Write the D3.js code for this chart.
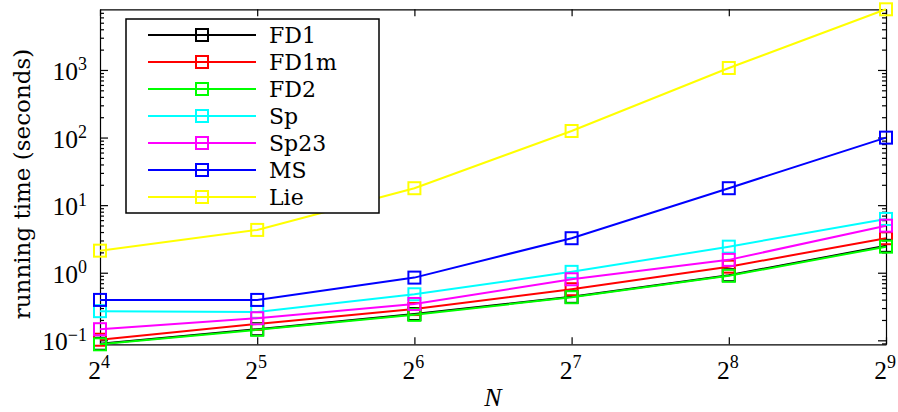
<!DOCTYPE html>
<html>
<head>
<meta charset="utf-8">
<script src="https://cdn.jsdelivr.net/npm/d3@7"></script>
<style>
  html, body { margin: 0; padding: 0; background: #fff; }
  svg { display: block; }
</style>
</head>
<body>
<svg id="chart" width="898" height="412"></svg>
<script>
// ---- data ----
const nValues = [16, 32, 64, 128, 256, 512];
const xTickExponents = [4, 5, 6, 7, 8, 9];
const yTickExponents = [-1, 0, 1, 2, 3];
const seriesNames = ["FD1", "FD1m", "FD2", "Sp", "Sp23", "MS", "Lie"];
const seriesColors = ["#000000", "#ff0000", "#00ff00", "#00ffff", "#ff00ff", "#0000ff", "#ffff00"];
const FD1  = [0.089, 0.146, 0.245, 0.44, 0.92, 2.5];
const FD1m = [0.102, 0.175, 0.29, 0.57, 1.23, 3.24];
const FD2  = [0.0873, 0.143, 0.238, 0.434, 0.90, 2.43];
const Sp   = [0.27, 0.262, 0.48, 1.03, 2.43, 6.25];
const Sp23 = [0.146, 0.212, 0.345, 0.80, 1.55, 4.97];
const MS   = [0.396, 0.396, 0.847, 3.24, 17.8, 99.7];
const Lie  = [2.12, 4.3, 17.8, 125, 1070, 7900];
const seriesValues = [FD1, FD1m, FD2, Sp, Sp23, MS, Lie];

(function () {
// ---- layout ----
const pLeft = 100, pRight = 886, pTop = 9.3, pBottom = 344.3;
const svg = d3.select("#chart");
const allVals = seriesValues.flat();

const x = d3.scaleLog().base(2).domain([d3.min(nValues), d3.max(nValues)]).range([pLeft, pRight]);
const y = d3.scaleLog().domain([d3.min(allVals), d3.max(allVals)]).range([pBottom, pTop]);

const tickFont = "'Liberation Serif', 'Times New Roman', serif";
const labelFont = "'DejaVu Serif', serif";

const g = svg.append("g");

const yMinor = [];
for (let e = -2; e <= 4; e++) {
  for (let m = 2; m <= 9; m++) {
    const v = m * Math.pow(10, e);
    if (v >= y.domain()[0] && v <= y.domain()[1]) yMinor.push(v);
  }
}
const yMajor = yTickExponents.map(e => Math.pow(10, e));

const axL = d3.axisLeft(y).tickValues(yMajor).tickSizeInner(-8).tickSizeOuter(0).tickFormat("");
const axR = d3.axisRight(y).tickValues(yMajor).tickSizeInner(-8).tickSizeOuter(0).tickFormat("");
const axLm = d3.axisLeft(y).tickValues(yMinor).tickSizeInner(-4).tickSizeOuter(0).tickFormat("");
const axRm = d3.axisRight(y).tickValues(yMinor).tickSizeInner(-4).tickSizeOuter(0).tickFormat("");
const xTickVals = xTickExponents.map(e => Math.pow(2, e));
const axB = d3.axisBottom(x).tickValues(xTickVals).tickSizeInner(-7).tickSizeOuter(0).tickFormat("");
const axT = d3.axisTop(x).tickValues(xTickVals).tickSizeInner(-7).tickSizeOuter(0).tickFormat("");

function styleAxis(sel) {
  sel.selectAll("path").attr("stroke", "#000").attr("stroke-width", 1.2);
  sel.selectAll("line").attr("stroke", "#000").attr("stroke-width", 1.2);
}
g.append("g").attr("transform", `translate(${pLeft},0)`).call(axL).call(styleAxis);
g.append("g").attr("transform", `translate(${pRight},0)`).call(axR).call(styleAxis);
g.append("g").attr("transform", `translate(${pLeft},0)`).call(axLm).call(styleAxis).select("path").remove();
g.append("g").attr("transform", `translate(${pRight},0)`).call(axRm).call(styleAxis).select("path").remove();
g.append("g").attr("transform", `translate(0,${pBottom})`).call(axB).call(styleAxis);
g.append("g").attr("transform", `translate(0,${pTop})`).call(axT).call(styleAxis);

yTickExponents.forEach(e => {
  const t = g.append("text")
    .attr("x", 87).attr("y", y(Math.pow(10, e)) + 10)
    .attr("text-anchor", "end")
    .attr("font-family", tickFont).attr("font-size", 25.5).attr("fill", "#000");
  t.append("tspan").text("10");
  t.append("tspan").attr("dy", -9.5).attr("font-size", 18).text(e < 0 ? "\u2212" + Math.abs(e) : String(e));
});

xTickExponents.forEach(e => {
  const t = g.append("text")
    .attr("x", x(Math.pow(2, e)) - 1).attr("y", 378.5)
    .attr("text-anchor", "middle")
    .attr("font-family", tickFont).attr("font-size", 25.5).attr("fill", "#000");
  t.append("tspan").text("2");
  t.append("tspan").attr("dy", -10.5).attr("font-size", 18).text(String(e));
});

g.append("text").attr("x", 493).attr("y", 406).attr("text-anchor", "middle")
  .attr("font-family", tickFont).attr("font-style", "italic").attr("font-size", 26).text("N");
g.append("text").attr("transform", "translate(30,184) rotate(-90)").attr("text-anchor", "middle")
  .attr("font-family", labelFont).attr("font-size", 23).text("running time (seconds)");

const line = d3.line().x((d, i) => x(nValues[i])).y(d => y(d));
const msz = 12;
seriesValues.forEach((vals, si) => {
  const sg = svg.append("g");
  sg.append("path").datum(vals).attr("d", line)
    .attr("fill", "none").attr("stroke", seriesColors[si]).attr("stroke-width", 2);
  sg.selectAll("rect").data(vals).enter().append("rect")
    .attr("x", (d, i) => x(nValues[i]) - msz / 2)
    .attr("y", d => y(d) - msz / 2)
    .attr("width", msz).attr("height", msz)
    .attr("fill", "none").attr("stroke", seriesColors[si]).attr("stroke-width", 2);
});

const lg = svg.append("g");
lg.append("rect").attr("x", 126).attr("y", 19).attr("width", 253).attr("height", 194)
  .attr("fill", "#fff").attr("stroke", "#000").attr("stroke-width", 1.5);
seriesNames.forEach((name, i) => {
  const yy = 35 + i * 27;
  lg.append("line").attr("x1", 148).attr("x2", 256).attr("y1", yy).attr("y2", yy)
    .attr("stroke", seriesColors[i]).attr("stroke-width", 2);
  lg.append("rect").attr("x", 202 - msz / 2).attr("y", yy - msz / 2).attr("width", msz).attr("height", msz)
    .attr("fill", "none").attr("stroke", seriesColors[i]).attr("stroke-width", 2);
  lg.append("text").attr("x", 269).attr("y", yy + 8)
    .attr("font-family", labelFont).attr("font-size", 22).attr("fill", "#000").text(name);
});
})();
</script>
</body>
</html>
